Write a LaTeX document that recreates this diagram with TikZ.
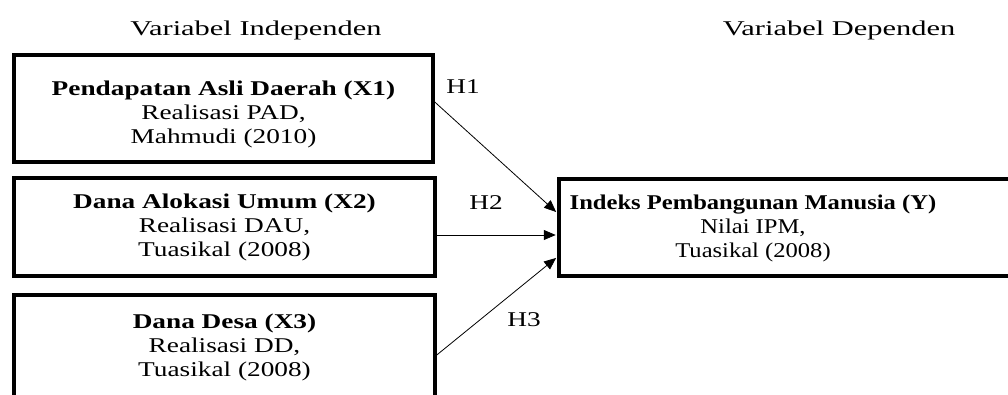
\documentclass[tikz,border=0pt]{standalone}
\usepackage{fontspec}
\setmainfont{Liberation Serif}[FakeStretch=1.3]
\newfontfamily\headfont{Liberation Serif}[FakeStretch=1.45]
\newfontfamily\depfont{Liberation Serif}[FakeStretch=1.17]
\usepackage{tikz}
\usetikzlibrary{arrows.meta,positioning,calc}
\tikzstyle{varbox} = [rectangle, draw, line width=3.5pt, text centered, align=center]
\tikzset{edge/.style = {
    line width=0.8pt,
    shorten >=1.5pt,
    -{Triangle[length=12pt, width=10pt]},
  }
}

\begin{document}
\begin{tikzpicture}[x=1pt, y=-1pt, font=\fontsize{21}{24}\selectfont]
          \clip (0,0) rectangle (1008,394);

          % headers
          \node[font=\fontsize{21}{24}\headfont] (indep) at (256,30) {Variabel Independen};
          \node[font=\fontsize{21}{24}\headfont] (dep)   at (839,30) {Variabel Dependen};

          % vertices
          \node[varbox, minimum width=419pt, minimum height=107pt] (x1) at (223.5,108.5) {\rule{0pt}{27pt}\textbf{Pendapatan Asli Daerah (X1)}\\Realisasi PAD,\\Mahmudi (2010)};
          \node[varbox, minimum width=421pt, minimum height=98pt]  (x2) at (224.5,227)   {\textbf{Dana Alokasi Umum (X2)}\\Realisasi DAU,\\Tuasikal (2008)};
          \node[varbox, minimum width=421pt, minimum height=105pt] (x3) at (224.5,347.5) {\textbf{Dana Desa (X3)}\\Realisasi DD,\\Tuasikal (2008)};

          \node[varbox, minimum width=461pt, minimum height=97pt] (y) at (789.5,227.5) {};
          \node[align=center, font=\fontsize{21}{24}\depfont] (ytext) at (753,228) {\textbf{Indeks Pembangunan Manusia (Y)}\\Nilai IPM,\\Tuasikal (2008)};

          % hypotheses
          \draw[edge] ([yshift=6.5pt]x1.east) -- ([yshift=14.5pt]y.west);
          \draw[edge] ([yshift=-8pt]x2.east)  -- ([yshift=-7.5pt]y.west);
          \draw[edge] ([yshift=-7.5pt]x3.east) -- ([yshift=-29.5pt]y.west);

          \node (h1) at (463,87)  {H1};
          \node (h2) at (486,203) {H2};
          \node (h3) at (524,320) {H3};
        \end{tikzpicture}
\end{document}
